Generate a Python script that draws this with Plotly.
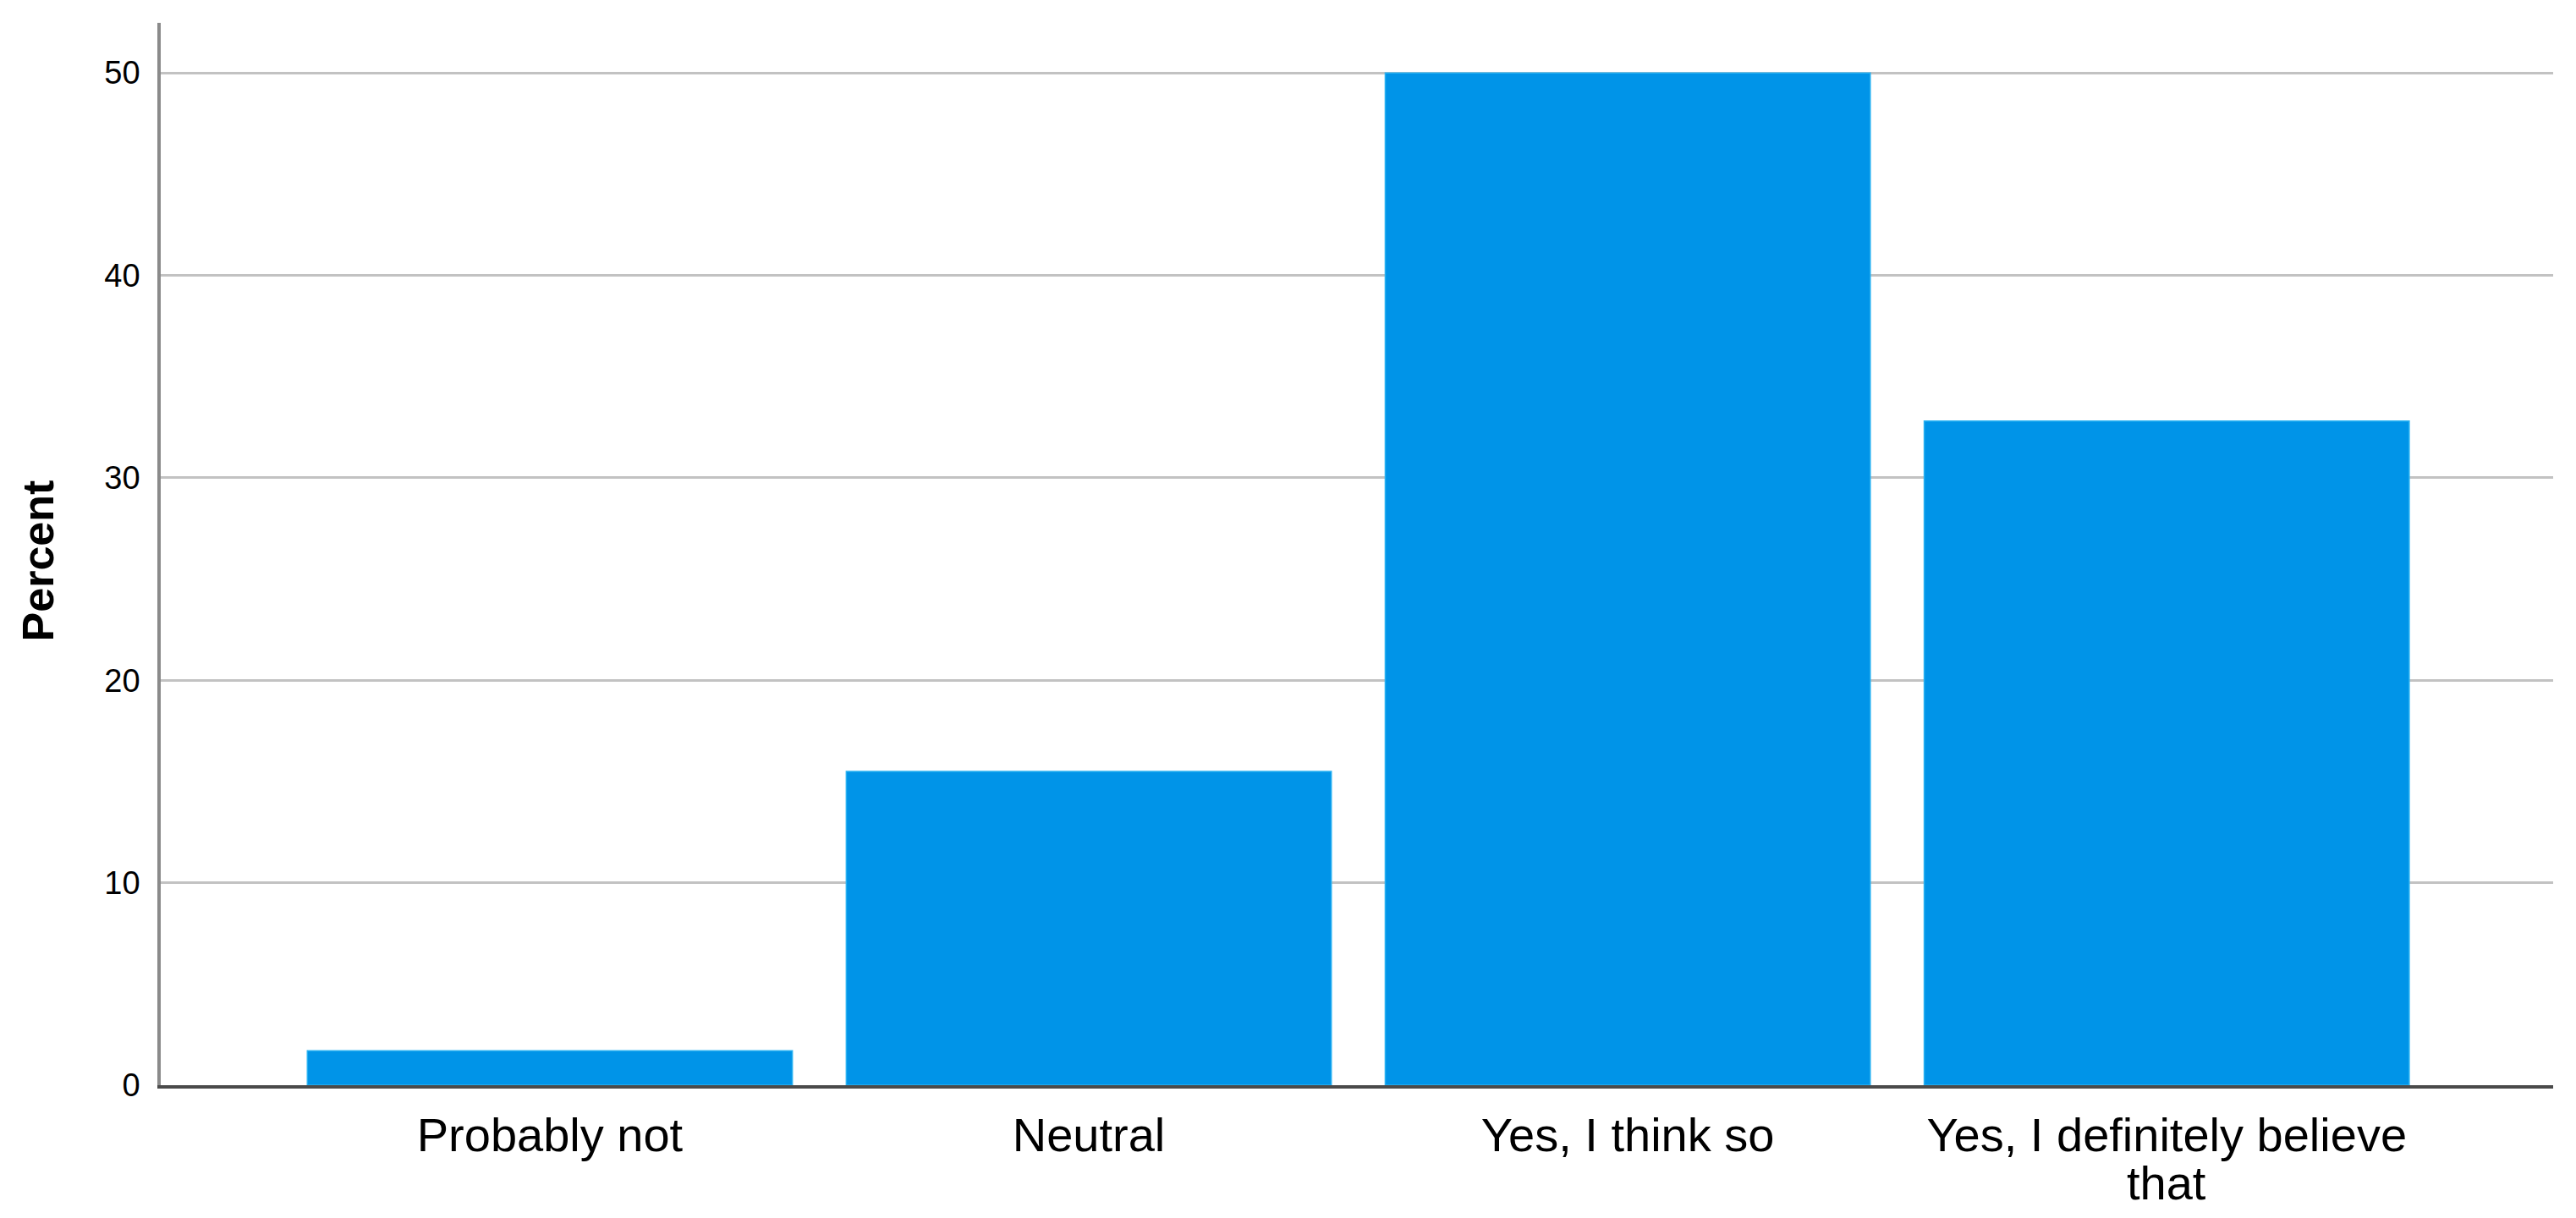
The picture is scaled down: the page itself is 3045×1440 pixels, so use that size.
import plotly.graph_objects as go

# Datos (porcentaje por respuesta)
categories = ["Probably not", "Neutral", "Yes, I think so", "Yes, I definitely believe that"]
tick_labels = ["Probably not", "Neutral", "Yes, I think so", "Yes, I definitely believe"]
wrapped_tail = "that"  # segunda línea de la última etiqueta
percent = [1.7, 15.5, 50.0, 32.8]
y_ticks = [0, 10, 20, 30, 40, 50]

# la página añade 8 px de margen al body
W, H = 3037, 1432
fig = go.Figure()

fig.add_trace(go.Bar(
    x=categories, y=percent,
    marker=dict(color="#0094e8", line=dict(color="#2ab2f2", width=1.5)),
    showlegend=False,
))

fig.update_xaxes(
    type="category",
    range=[-0.722, 3.717],
    tickvals=categories, ticktext=tick_labels,
    tickfont=dict(family="Liberation Sans, Arial, sans-serif", size=56, color="#000000"),
    ticks="", ticklabelstandoff=7,
    showline=True, linecolor="#4a4a4a", linewidth=3.5,
    showgrid=False, zeroline=False,
)
fig.update_yaxes(
    range=[0, 52.47],
    tickvals=y_ticks,
    tickfont=dict(family="Liberation Sans, Arial, sans-serif", size=38, color="#000000"),
    ticks="", ticklabelstandoff=13,
    showline=True, linecolor="#8a8a8a", linewidth=3.5,
    showgrid=True, gridcolor="#c2c2c2", gridwidth=2.5,
    zeroline=False,
)

fig.add_annotation(
    text=wrapped_tail, x=categories[3], xref="x",
    yref="paper", y=-0.0916, xanchor="center", yanchor="middle", showarrow=False,
    font=dict(family="Liberation Sans, Arial, sans-serif", size=56, color="#000000"),
)

fig.add_annotation(
    text="<b>Percent</b>", textangle=-90,
    xref="paper", yref="paper", x=-0.0513, y=0.494,
    xanchor="center", yanchor="middle", showarrow=False,
    font=dict(family="Liberation Sans, Arial, sans-serif", size=52, color="#000000"),
)

fig.update_layout(
    width=W, height=H,
    margin=dict(l=182, r=27, t=19, b=157, autoexpand=False),
    bargap=0.1,
    plot_bgcolor="#ffffff", paper_bgcolor="#ffffff",
)

fig.write_html("out.html")
